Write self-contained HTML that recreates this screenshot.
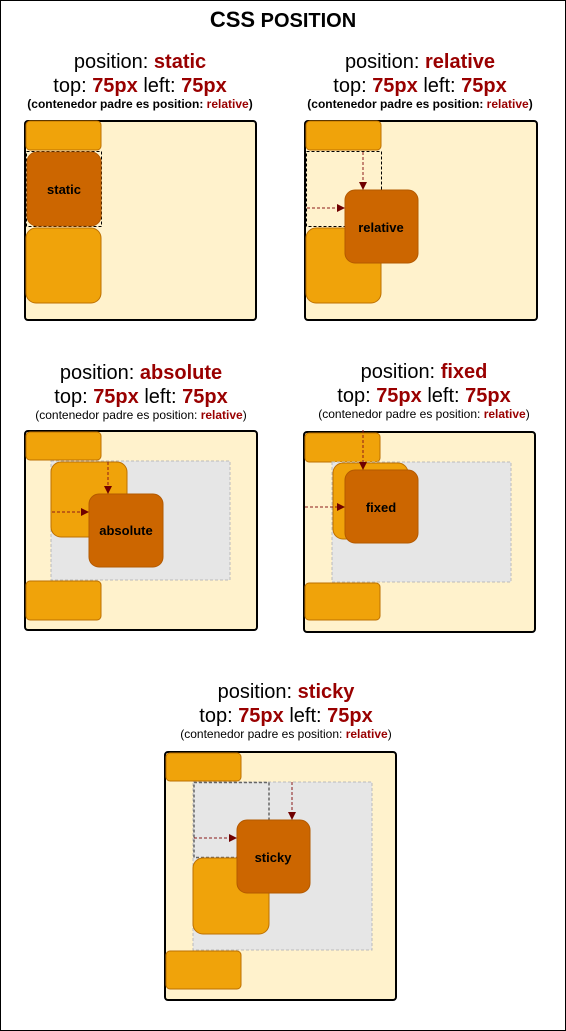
<!DOCTYPE html>
<html><head><meta charset="utf-8"><style>
html,body{margin:0;padding:0;background:#fff}
svg{display:block;font-family:"Liberation Sans",Arial,sans-serif}
.c{fill:#fff2cc;stroke:#000;stroke-width:2}
.o{fill:#f0a30a;stroke:#bd7000;stroke-width:1}
.d{fill:#cc6600;stroke:#b35900;stroke-width:1}
.g{fill:#e6e6e6;stroke:#bbb;stroke-width:1;stroke-dasharray:3 2}
.k{fill:none;stroke:#000;stroke-width:1;stroke-dasharray:3 2}
.k2{fill:none;stroke:#666;stroke-width:1.5;stroke-dasharray:3 2}
.a{stroke:#8b1a1a;stroke-width:1;stroke-dasharray:3 2;fill:none}
.ah{fill:#6f0000}
.t1{font-size:20px;fill:#000;text-anchor:middle}
.r{fill:#990000;font-weight:bold}
.t3{font-size:12px;text-anchor:middle}
.bl{font-size:13px;font-weight:bold;text-anchor:middle}
</style></head><body>
<svg width="566" height="1031" viewBox="0 0 566 1031">
<rect x="0.5" y="0.5" width="565" height="1030" fill="#fff" stroke="#000"/>
<text x="283" y="27" text-anchor="middle" font-weight="bold"><tspan font-size="22">CSS</tspan><tspan font-size="20"> POSITION</tspan></text>

<g>
<text class="t1" x="140" y="68">position: <tspan class="r">static</tspan></text>
<text class="t1" x="140" y="92">top: <tspan class="r">75px</tspan> left: <tspan class="r">75px</tspan></text>
<text class="t3" x="140" y="108" font-weight="bold">(contenedor padre es position: <tspan fill="#990000">relative</tspan>)</text>
<rect class="c" x="25" y="121" width="231" height="199" rx="3"/>
<rect class="o" x="26" y="121" width="75" height="29" rx="4"/>
<rect class="k" x="26.5" y="151.5" width="75" height="75"/>
<rect class="d" x="27" y="152" width="74" height="74" rx="10"/>
<text class="bl" x="64" y="194">static</text>
<rect class="o" x="26" y="228" width="75" height="75" rx="10"/>
</g>

<g>
<text class="t1" x="420" y="68">position: <tspan class="r">relative</tspan></text>
<text class="t1" x="420" y="92">top: <tspan class="r">75px</tspan> left: <tspan class="r">75px</tspan></text>
<text class="t3" x="420" y="108" font-weight="bold">(contenedor padre es position: <tspan fill="#990000">relative</tspan>)</text>
<rect class="c" x="305" y="121" width="232" height="199" rx="3"/>
<rect class="o" x="306" y="121" width="75" height="29" rx="4"/>
<rect class="o" x="306" y="228" width="75" height="75" rx="10"/>
<rect class="k" x="306.5" y="151.5" width="75" height="75"/>
<rect class="d" x="345" y="190" width="73" height="73" rx="10"/>
<text class="bl" x="381" y="232">relative</text>
<line class="a" x1="363" y1="152" x2="363" y2="184"/><polygon class="ah" points="359,182 367,182 363,190"/>
<line class="a" x1="307" y1="208" x2="339" y2="208"/><polygon class="ah" points="337,204 337,212 345,208"/>
</g>

<g>
<text class="t1" x="141" y="379">position: <tspan class="r">absolute</tspan></text>
<text class="t1" x="141" y="403">top: <tspan class="r">75px</tspan> left: <tspan class="r">75px</tspan></text>
<text class="t3" x="141" y="419">(contenedor padre es position: <tspan fill="#990000" font-weight="bold">relative</tspan>)</text>
<rect class="c" x="25" y="431" width="232" height="199" rx="3"/>
<rect class="o" x="26" y="432" width="75" height="28" rx="4"/>
<rect class="g" x="51" y="461" width="179" height="119"/>
<rect class="o" x="51" y="462" width="76" height="75" rx="10"/>
<rect class="d" x="89" y="494" width="74" height="73" rx="10"/>
<text class="bl" x="126" y="535">absolute</text>
<line class="a" x1="108" y1="462" x2="108" y2="488"/><polygon class="ah" points="104,486 112,486 108,494"/>
<line class="a" x1="52" y1="512" x2="83" y2="512"/><polygon class="ah" points="81,508 81,516 89,512"/>
<rect class="o" x="26" y="581" width="75" height="39" rx="4"/>
</g>

<g>
<text class="t1" x="424" y="378">position: <tspan class="r">fixed</tspan></text>
<text class="t1" x="424" y="402">top: <tspan class="r">75px</tspan> left: <tspan class="r">75px</tspan></text>
<text class="t3" x="424" y="418">(contenedor padre es position: <tspan fill="#990000" font-weight="bold">relative</tspan>)</text>
<rect class="c" x="304" y="432" width="231" height="200" rx="3"/>
<rect class="o" x="305" y="433" width="75" height="29" rx="4"/>
<rect class="g" x="332" y="462" width="179" height="120"/>
<rect class="o" x="333" y="463" width="75" height="76" rx="10"/>
<rect class="d" x="345" y="470" width="73" height="73" rx="10"/>
<text class="bl" x="381" y="512">fixed</text>
<line class="a" x1="363" y1="430" x2="363" y2="464"/><polygon class="ah" points="359,462 367,462 363,470"/>
<line class="a" x1="305" y1="507" x2="339" y2="507"/><polygon class="ah" points="337,503 337,511 345,507"/>
<rect class="o" x="305" y="583" width="75" height="37" rx="4"/>
</g>

<g>
<text class="t1" x="286" y="698">position: <tspan class="r">sticky</tspan></text>
<text class="t1" x="286" y="722">top: <tspan class="r">75px</tspan> left: <tspan class="r">75px</tspan></text>
<text class="t3" x="286" y="738">(contenedor padre es position: <tspan fill="#990000" font-weight="bold">relative</tspan>)</text>
<rect class="c" x="165" y="752" width="231" height="248" rx="3"/>
<rect class="o" x="166" y="753" width="75" height="28" rx="4"/>
<rect class="g" x="193" y="782" width="179" height="168"/>
<rect class="k2" x="194" y="782.5" width="75" height="75"/>
<rect class="o" x="193" y="858" width="76" height="76" rx="10"/>
<rect class="d" x="237" y="820" width="73" height="73" rx="10"/>
<text class="bl" x="273" y="862">sticky</text>
<line class="a" x1="292" y1="782" x2="292" y2="814"/><polygon class="ah" points="288,812 296,812 292,820"/>
<line class="a" x1="194" y1="838" x2="231" y2="838"/><polygon class="ah" points="229,834 229,842 237,838"/>
<rect class="o" x="166" y="951" width="75" height="38" rx="4"/>
</g>
</svg>
</body></html>
